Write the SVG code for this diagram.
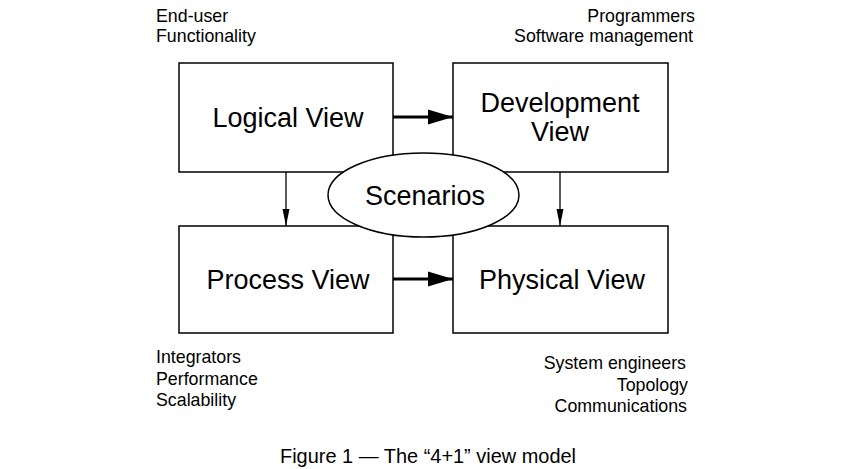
<svg xmlns="http://www.w3.org/2000/svg" width="856" height="469" viewBox="0 0 856 469">
<style>
.box{fill:#fff;stroke:#000;stroke-width:1.5}
.big{font-family:"Liberation Sans",Arial,sans-serif;font-size:27px;fill:#000;text-anchor:middle}
.small{font-family:"Liberation Sans",Arial,sans-serif;font-size:17.8px;fill:#000}
.thick{stroke:#000;stroke-width:3;fill:none}
.thin{stroke:#000;stroke-width:1.3;fill:none}
</style>
<defs>
<marker id="bigArrow" markerUnits="userSpaceOnUse" markerWidth="26" markerHeight="16" refX="25" refY="8" orient="auto">
<path d="M0,0.5 L25,8 L0,15.5 Z" fill="#000"/>
</marker>
<marker id="smallArrow" markerUnits="userSpaceOnUse" markerWidth="18" markerHeight="10" refX="17" refY="5" orient="auto">
<path d="M0,1.5 L17,5 L0,8.5 Z" fill="#000"/>
</marker>
</defs>
<rect width="856" height="469" fill="#fff"/>
<g id="connectors">
<line class="thin" x1="286" y1="172" x2="286" y2="226" marker-end="url(#smallArrow)"/>
<line class="thin" x1="560" y1="172" x2="560" y2="226" marker-end="url(#smallArrow)"/>
<line class="thick" x1="393" y1="117" x2="453" y2="117" marker-end="url(#bigArrow)"/>
<line class="thick" x1="393" y1="279" x2="453" y2="279" marker-end="url(#bigArrow)"/>
</g>
<g id="logical">
<rect class="box" x="179" y="63" width="214" height="109"/>
<text class="big" x="288" y="127">Logical View</text>
</g>
<g id="development">
<rect class="box" x="453" y="63" width="215" height="109"/>
<text class="big" x="560" y="112">Development</text>
<text class="big" x="560" y="141">View</text>
</g>
<g id="process">
<rect class="box" x="179" y="226" width="214" height="107"/>
<text class="big" x="288" y="289">Process View</text>
</g>
<g id="physical">
<rect class="box" x="453" y="226" width="215" height="107"/>
<text class="big" x="562" y="289">Physical View</text>
</g>
<g id="scenarios">
<ellipse class="box" cx="423.5" cy="195" rx="95.5" ry="42"/>
<text class="big" x="425" y="205">Scenarios</text>
</g>
<g id="labels">
<text class="small" x="156" y="22">End-user</text>
<text class="small" x="156" y="42">Functionality</text>
<text class="small" x="695" y="22" text-anchor="end">Programmers</text>
<text class="small" x="693" y="42" text-anchor="end">Software management</text>
<text class="small" x="156" y="363">Integrators</text>
<text class="small" x="156" y="385">Performance</text>
<text class="small" x="156" y="406">Scalability</text>
<text class="small" x="686" y="369" text-anchor="end">System engineers</text>
<text class="small" x="688" y="391" text-anchor="end">Topology</text>
<text class="small" x="687" y="412" text-anchor="end">Communications</text>
<text class="small" x="280" y="463" textLength="296" lengthAdjust="spacingAndGlyphs" style="font-size:19.5px">Figure 1 — The “4+1” view model</text>
</g>
</svg>
